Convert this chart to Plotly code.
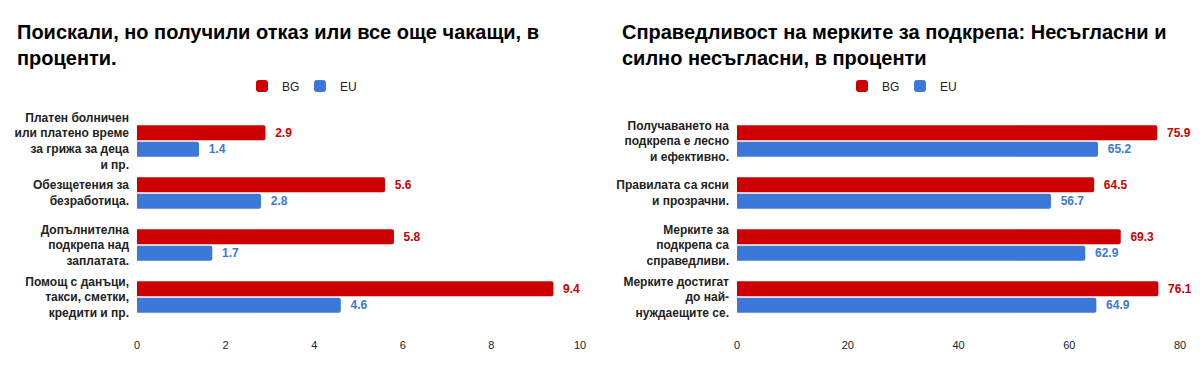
import plotly.graph_objects as go

# ---- data ----
left_title = "Поискали, но получили отказ или все още чакащи, в<br>проценти."
left_categories = [
    "Платен болничен<br>или платено време<br>за грижа за деца<br>и пр.",
    "Обезщетения за<br>безработица.",
    "Допълнителна<br>подкрепа над<br>заплатата.",
    "Помощ с данъци,<br>такси, сметки,<br>кредити и пр.",
]
left_bg = [2.9, 5.6, 5.8, 9.4]
left_eu = [1.4, 2.8, 1.7, 4.6]
left_ticks = [0, 2, 4, 6, 8, 10]

right_title = "Справедливост на мерките за подкрепа: Несъгласни и<br>силно несъгласни, в проценти"
right_categories = [
    "Получаването на<br>подкрепа е лесно<br>и ефективно.",
    "Правилата са ясни<br>и прозрачни.",
    "Мерките за<br>подкрепа са<br>справедливи.",
    "Мерките достигат<br>до най-<br>нуждаещите се.",
]
right_bg = [75.9, 64.5, 69.3, 76.1]
right_eu = [65.2, 56.7, 62.9, 64.9]
right_ticks = [0, 20, 40, 60, 80]

series_names = ["BG", "EU"]
RED = "#cc0000"
BLUE = "#3c78d8"
FONT = "Liberation Sans, Arial, sans-serif"

fig = go.Figure()

def add_bars(cats, bg, eu, xa, ya, legend):
    for name, vals, col in ((series_names[0], bg, RED), (series_names[1], eu, BLUE)):
        fig.add_trace(go.Bar(
            y=cats, x=vals, orientation="h", name=name,
            marker=dict(color=col, line=dict(width=0)),
            text=vals, texttemplate="\u00a0\u00a0%{x}", textposition="outside",
            textfont=dict(color=col, size=12, family=FONT, weight="bold"),
            constraintext="none", cliponaxis=False,
            xaxis=xa, yaxis=ya, legend=legend, hoverinfo="skip",
        ))

add_bars(left_categories, left_bg, left_eu, "x", "y", "legend")
add_bars(right_categories, right_bg, right_eu, "x2", "y2", "legend2")

ydom = [1 - 323 / 371, 1 - 115 / 371]
axis_common = dict(showgrid=False, zeroline=False, showline=False, automargin=False,
                   tickfont=dict(size=11, color="#222222", family=FONT),
                   ticks="", ticklabelstandoff=14)
ycommon = dict(showgrid=False, zeroline=False, showline=False, autorange="reversed",
               automargin=False,
               tickfont=dict(size=12, color="#222222", family=FONT, weight="bold"),
               ticks="", ticklabelstandoff=7)

legend_common = dict(orientation="h", xanchor="center", y=1 - 86 / 371, yanchor="middle",
                     font=dict(size=12, color="#222222", family=FONT),
                     entrywidth=13, bgcolor="rgba(0,0,0,0)")

fig.update_layout(
    width=1200, height=371,
    margin=dict(l=0, r=0, t=0, b=0, autoexpand=False),
    paper_bgcolor="white", plot_bgcolor="white",
    barmode="group", bargap=0.36, bargroupgap=0.1, barcornerradius=2,
    showlegend=True,
    xaxis=dict(domain=[137 / 1200, 580 / 1200], range=[0, 10], tickvals=left_ticks,
               anchor="y", **axis_common),
    yaxis=dict(domain=ydom, anchor="x", **ycommon),
    xaxis2=dict(domain=[737 / 1200, 1180 / 1200], range=[0, 80], tickvals=right_ticks,
                anchor="y2", **axis_common),
    yaxis2=dict(domain=ydom, anchor="x2", **ycommon),
    legend=dict(x=0.25, **legend_common),
    legend2=dict(x=0.75, **legend_common),
    annotations=[
        dict(text="<b>" + left_title + "</b>", xref="paper", yref="paper",
             x=15 / 1200, y=1 - 19 / 371, xanchor="left", yanchor="top", align="left",
             showarrow=False, font=dict(size=20, color="#000000", family=FONT)),
        dict(text="<b>" + right_title + "</b>", xref="paper", yref="paper",
             x=620 / 1200, y=1 - 19 / 371, xanchor="left", yanchor="top", align="left",
             showarrow=False, font=dict(size=20, color="#000000", family=FONT)),
    ],
)

fig.write_html("out.html", config={"displayModeBar": False},
               post_script="document.body.style.margin='0';")
